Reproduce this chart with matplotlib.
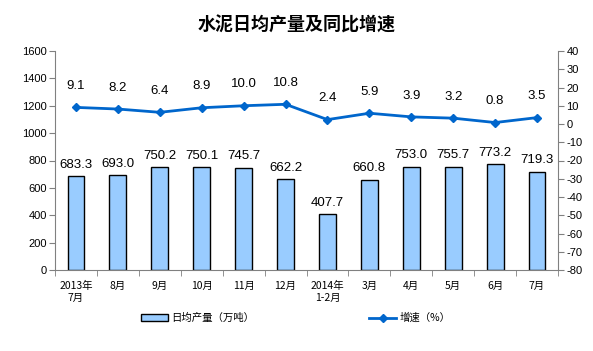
import matplotlib
matplotlib.use("Agg")
import matplotlib.pyplot as plt
import numpy as np

plt.rcParams['font.family'] = ['Liberation Sans', 'Noto Sans CJK SC', 'DejaVu Sans']

categories = ["2013年\n7月", "8月", "9月", "10月", "11月", "12月",
              "2014年\n1-2月", "3月", "4月", "5月", "6月", "7月"]
output = [683.3, 693.0, 750.2, 750.1, 745.7, 662.2, 407.7, 660.8, 753.0, 755.7, 773.2, 719.3]
growth = [9.1, 8.2, 6.4, 8.9, 10.0, 10.8, 2.4, 5.9, 3.9, 3.2, 0.8, 3.5]
left_ticks = list(range(0, 1601, 200))
right_ticks = list(range(-80, 41, 10))

fig = plt.figure(figsize=(5.93, 3.51), dpi=100)
ax = fig.add_axes([55/593, 1-270/351, (558-55)/593, (270-51)/351])
x = np.arange(len(categories))

ax.bar(x, output, width=0.4, color="#99CCFF", edgecolor="black", linewidth=1.0, zorder=2)
for xi, v in zip(x, output):
    ax.annotate(f"{v:.1f}", (xi, v), xytext=(0, 4), textcoords="offset points",
                ha="center", va="bottom", fontsize=9.5)

ax.set_xlim(-0.5, len(categories)-0.5)
ax.set_ylim(0, 1600)
ax.set_yticks(left_ticks)
ax.set_yticklabels([str(t) for t in left_ticks], fontsize=8)
ax.set_xticks(x)
ax.set_xticklabels(categories, fontsize=7.5, family=['Noto Sans CJK SC', 'DejaVu Sans'], linespacing=1.2)
ax.tick_params(axis='x', length=0, pad=8)
ax.set_xticks(np.arange(-0.5, len(categories), 1), minor=True)
ax.tick_params(axis='x', which='minor', length=4, color="#808080", direction='out')
ax.tick_params(axis='y', length=4, color="#808080", direction='out', pad=2)
for s in ['top', 'right']:
    ax.spines[s].set_visible(False)
ax.spines['left'].set_color("#808080")
ax.spines['bottom'].set_color("#808080")

ax2 = ax.twinx()
ax2.set_ylim(-80, 40)
ax2.set_yticks(right_ticks)
ax2.set_yticklabels([str(t) for t in right_ticks], fontsize=8)
ax2.tick_params(axis='y', length=4, color="#808080", direction='out', pad=2)
for s in ['top', 'left', 'bottom']:
    ax2.spines[s].set_visible(False)
ax2.spines['right'].set_color("#808080")
ax2.plot(x, growth, color="#0066CC", linewidth=2, marker="D", markersize=4, zorder=3)
for xi, v in zip(x, growth):
    ax2.annotate(f"{v:.1f}", (xi, v), xytext=(0, 11), textcoords="offset points",
                 ha="center", va="bottom", fontsize=9.5)

fig.text(0.5, 1-25/351, "水泥日均产量及同比增速", ha="center", va="center",
         fontsize=13, fontweight="bold", family=['Noto Sans CJK SC', 'DejaVu Sans'])

from matplotlib.patches import Patch
from matplotlib.lines import Line2D
h1 = Patch(facecolor="#99CCFF", edgecolor="black", linewidth=1.0)
h2 = Line2D([0], [0], color="#0066CC", linewidth=2, marker="D", markersize=4)
fig.legend([h1], ["日均产量（万吨）"], loc="center", bbox_to_anchor=(198/593, 1-318/351),
           frameon=False, prop={'family': ['Noto Sans CJK SC', 'DejaVu Sans'], 'size': 7.5},
           handlelength=2.6, handleheight=0.7, handletextpad=0.3)
fig.legend([h2], ["增速（%）"], loc="center", bbox_to_anchor=(410/593, 1-318/351),
           frameon=False, prop={'family': ['Noto Sans CJK SC', 'DejaVu Sans'], 'size': 7.5},
           handlelength=2.6, handletextpad=0.3)

fig.savefig("out.png", dpi=100)
